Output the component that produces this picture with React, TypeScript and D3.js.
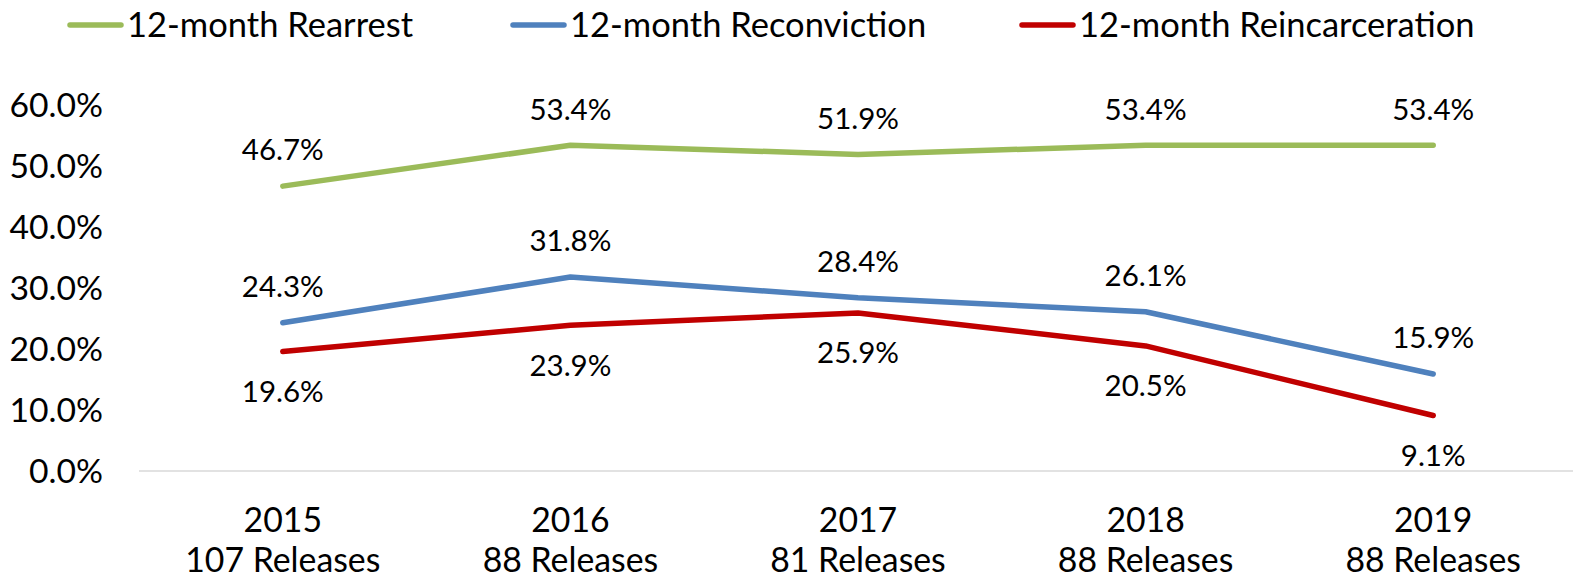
import React from "react";
import * as d3 from "d3";

const years = ["2015", "2016", "2017", "2018", "2019"];
const releases = ["107 Releases", "88 Releases", "81 Releases", "88 Releases", "88 Releases"];
const rearrest = [46.7, 53.4, 51.9, 53.4, 53.4];
const reconviction = [24.3, 31.8, 28.4, 26.1, 15.9];
const reincarceration = [19.6, 23.9, 25.9, 20.5, 9.1];
const yTicks = [0, 10, 20, 30, 40, 50, 60];

const seriesList = [
  { name: "12-month Rearrest", values: rearrest, color: "#9BBB59", labelDy: -36 },
  { name: "12-month Reconviction", values: reconviction, color: "#4F81BD", labelDy: -36 },
  { name: "12-month Reincarceration", values: reincarceration, color: "#C00000", labelDy: 40 },
];

// legend entry start x
const legendX = [68, 511, 1020];

export default function App() {
  const width = 1573;
  const height = 580;
  const margin = { top: 105, bottom: 109, left: 139 };
  const font = "Lato, 'Open Sans', sans-serif";

  const x = d3
    .scalePoint<string>()
    .domain(years)
    .range([margin.left, 1577])
    .padding(0.5);

  const y = d3
    .scaleLinear()
    .domain([0, 60])
    .range([height - margin.bottom, margin.top]);

  const line = d3
    .line<number>()
    .x((_, i) => x(years[i]) as number)
    .y((d) => y(d));

  return (
    <svg
      width={width}
      height={height}
      style={{ position: "absolute", left: 0, top: 0, background: "#fff" }}
      fontFamily={font}
    >
      {/* legend */}
      {seriesList.map((s, i) => (
        <g key={s.name} transform={`translate(${legendX[i]},25)`}>
          <line x1={2} x2={53} y1={0} y2={0} stroke={s.color} strokeWidth={5.5} strokeLinecap="round" />
          <text x={59} y={0} dy="0.35em" fontSize={34.5} fill="#000">
            {s.name}
          </text>
        </g>
      ))}

      {/* y axis labels */}
      {yTicks.map((t) => (
        <text key={t} x={103} y={y(t)} dy="0.35em" textAnchor="end" fontSize={33.7} fill="#000">
          {t.toFixed(1)}%
        </text>
      ))}

      {/* x axis line */}
      <line x1={margin.left} x2={width} y1={y(0)} y2={y(0)} stroke="#D9D9D9" strokeWidth={1.5} />

      {/* x labels */}
      {years.map((yr, i) => (
        <text key={yr} x={x(yr)} textAnchor="middle" fontSize={33.8} fill="#000">
          <tspan x={x(yr)} y={532}>{yr}</tspan>
          <tspan x={x(yr)} y={572}>{releases[i]}</tspan>
        </text>
      ))}

      {/* lines */}
      {seriesList.map((s) => (
        <path
          key={s.name}
          d={line(s.values) ?? ""}
          fill="none"
          stroke={s.color}
          strokeWidth={5.5}
          strokeLinecap="round"
          strokeLinejoin="round"
        />
      ))}

      {/* data labels */}
      {seriesList.map((s) =>
        s.values.map((v, i) => (
          <text
            key={s.name + i}
            x={x(years[i])}
            y={y(v) + s.labelDy}
            dy="0.35em"
            textAnchor="middle"
            fontSize={29.5}
            fill="#000"
          >
            {v.toFixed(1)}%
          </text>
        ))
      )}
    </svg>
  );
}
